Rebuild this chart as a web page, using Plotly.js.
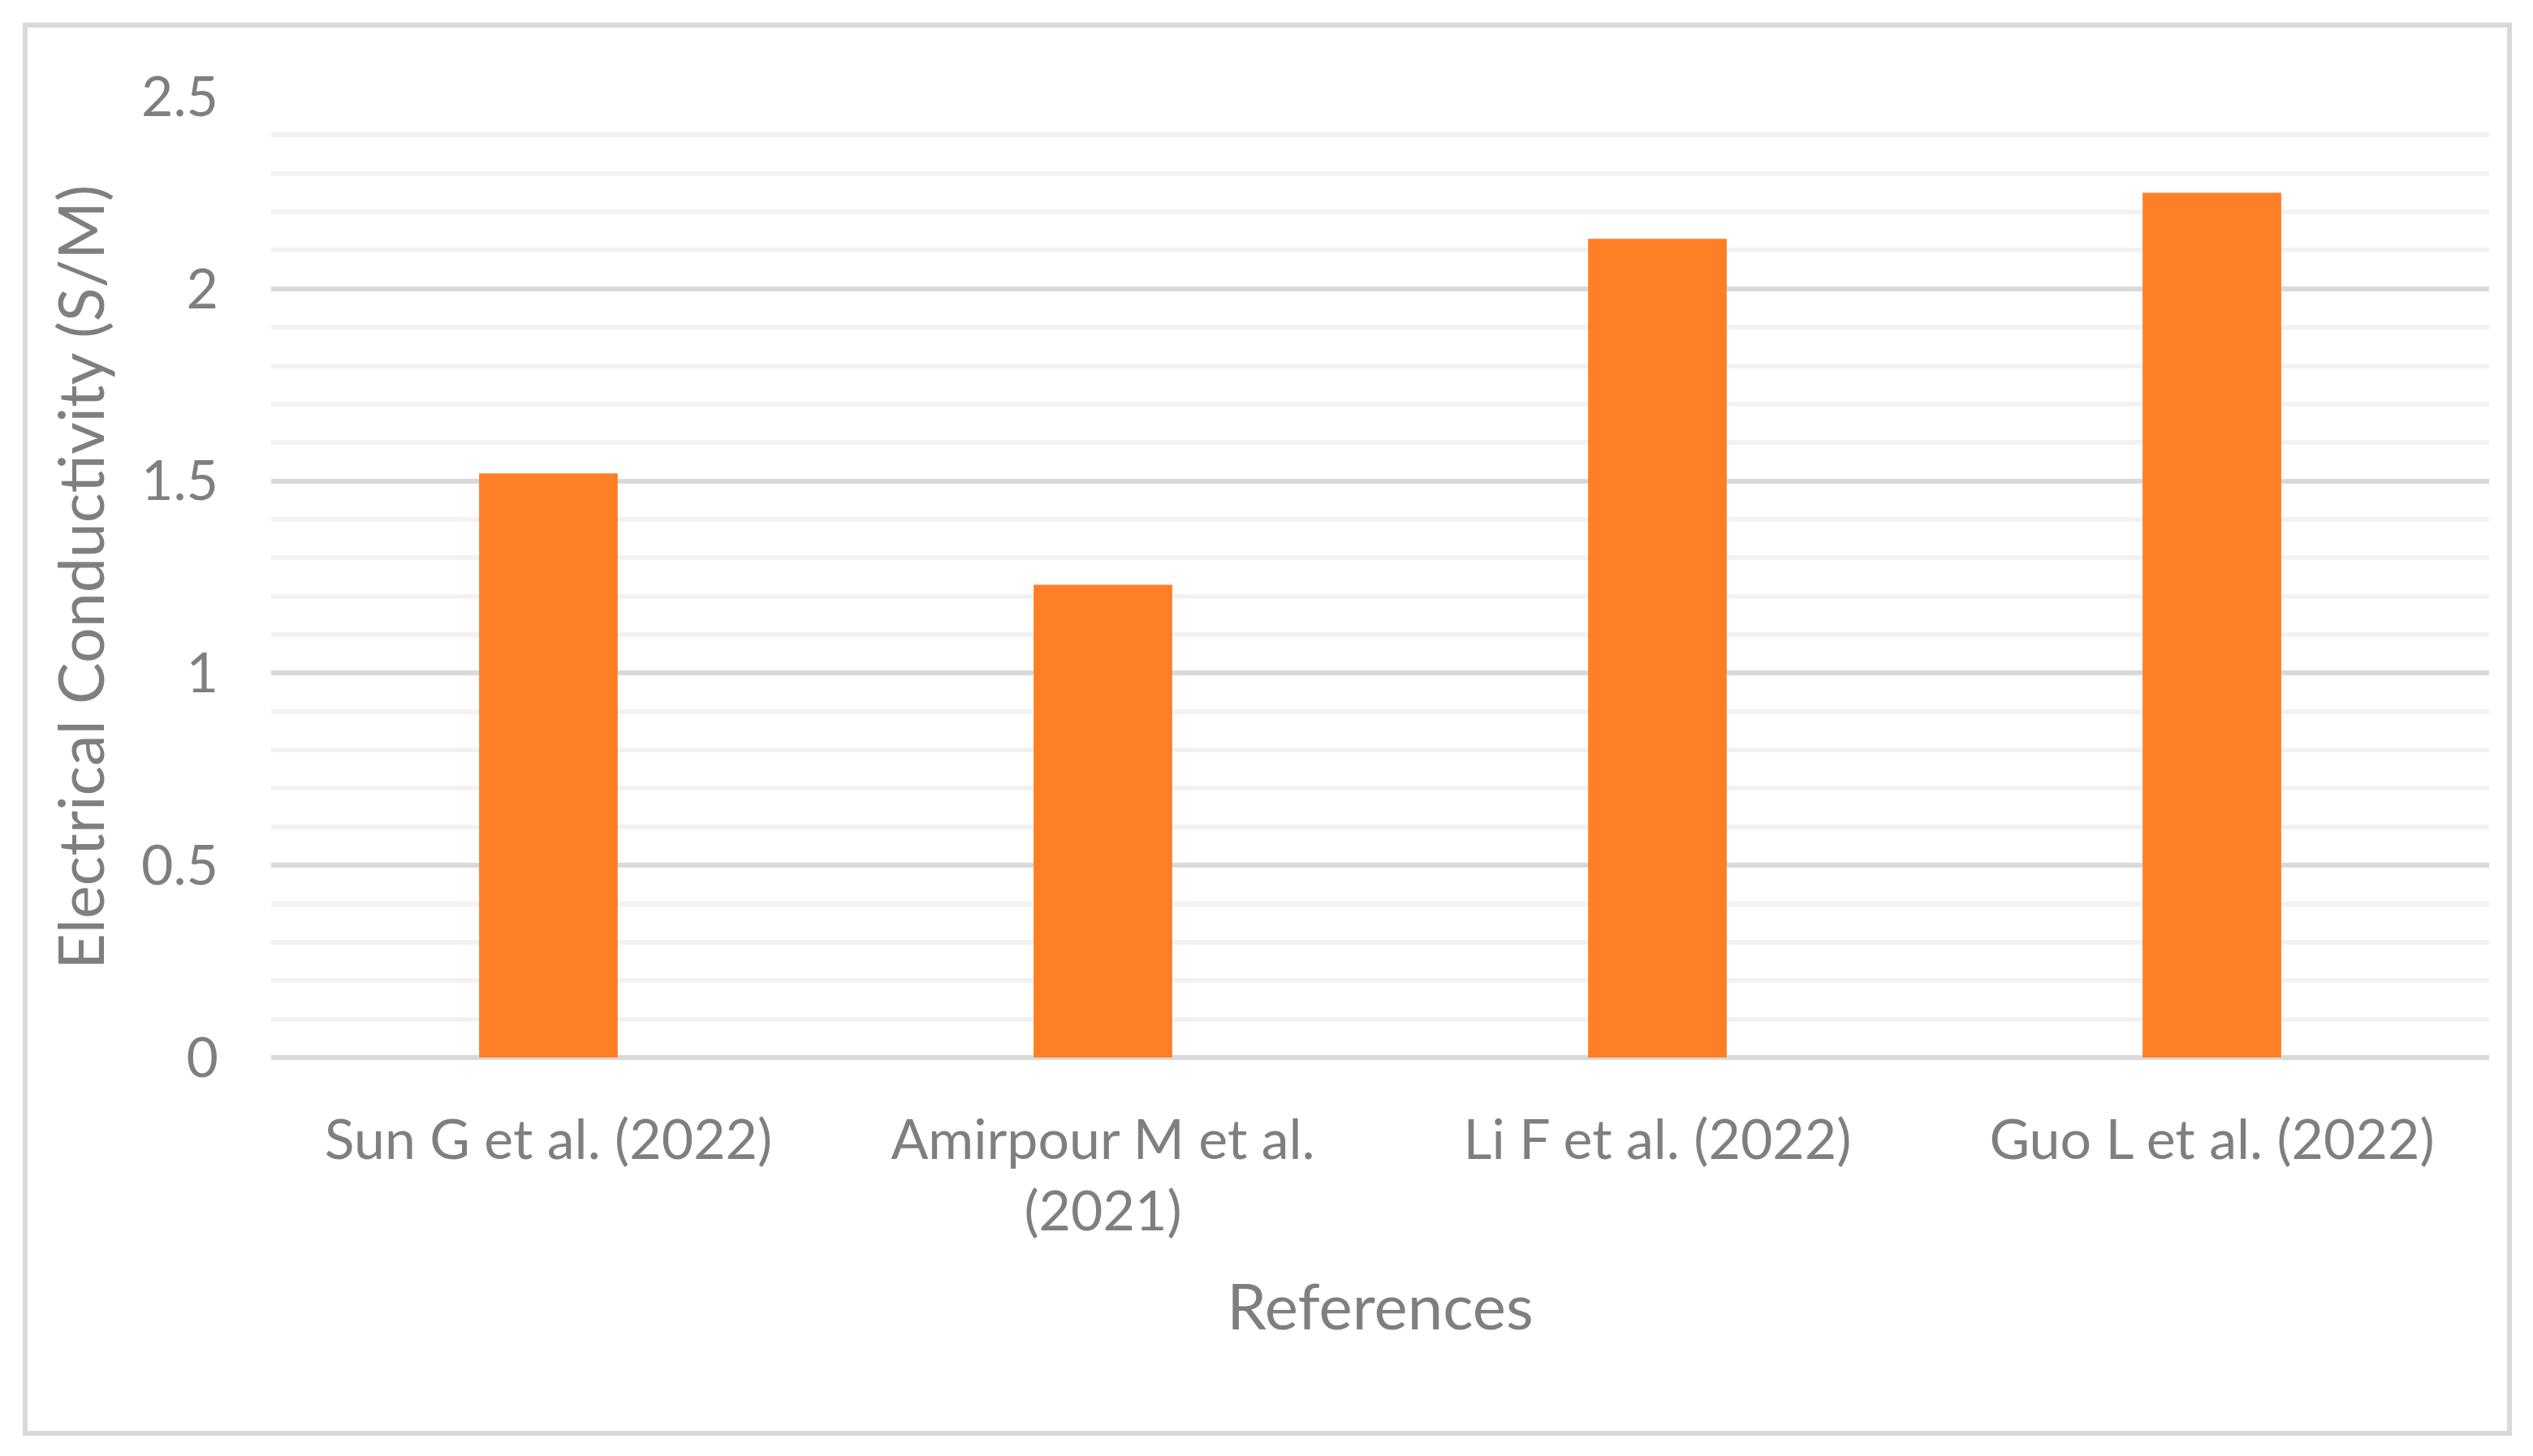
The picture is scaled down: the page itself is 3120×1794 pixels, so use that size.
<!DOCTYPE html>
<html>
<head>
<meta charset="utf-8">
<script src="https://cdn.plot.ly/plotly-3.0.1.min.js"></script>
<style>
html,body{margin:0;padding:0;background:#fff;}
#chart{width:3120px;height:1794px;}
</style>
</head>
<body>
<div id="chart"></div>
<script>
const categories = ["Sun G et al. (2022)", "Amirpour M et al.<br>(2021)", "Li F et al. (2022)", "Guo L et al. (2022)"];
const conductivity = [1.52, 1.23, 2.13, 2.25];
const yTickVals = [0, 0.5, 1, 1.5, 2, 2.5];
const yTickText = ["0", "0.5", "1", "1.5", "2", "2.5"];

const FONT = "Lato, 'Open Sans', sans-serif";
const GRAY = "#7f7f7f";

const L = 334, R = 3066, T = 119, B = 1303, W = 3120, H = 1794;
const pw = R - L, ph = B - T;
function px(x){ return (x - L) / pw; }
function py(y){ return (B - y) / ph; }

const trace = {
  type: "bar",
  x: categories,
  y: conductivity,
  marker: { color: "#fe7f26" },
  width: 0.25,
  hoverinfo: "x+y"
};

const layout = {
  width: W, height: H,
  paper_bgcolor: "#ffffff",
  plot_bgcolor: "#ffffff",
  margin: { l: L, r: W - R, t: T, b: H - B, pad: 0 },
  showlegend: false,
  font: { family: FONT, color: GRAY, size: 68 },
  xaxis: {
    type: "category",
    showgrid: false,
    showline: false,
    zeroline: false,
    ticks: "",
    tickfont: { family: FONT, size: 68, color: GRAY },
    ticklabelstandoff: 56,
    title: { text: "References", font: { family: FONT, size: 78, color: GRAY }, standoff: 53 }
  },
  yaxis: {
    range: [0, 2.5],
    tickvals: yTickVals,
    ticktext: yTickText,
    showgrid: true,
    gridcolor: "#d9d9d9",
    gridwidth: 6,
    zeroline: true,
    zerolinecolor: "#d9d9d9",
    zerolinewidth: 6,
    showline: false,
    ticks: "",
    tickfont: { family: FONT, size: 68, color: GRAY },
    ticklabelstandoff: 64,
    minor: { dtick: 0.1, showgrid: true, gridcolor: "#f2f2f2", gridwidth: 6, ticks: "" },
    title: { text: "Electrical Conductivity (S/M)", font: { family: FONT, size: 77, color: GRAY }, standoff: 20 }
  },
  shapes: [{
    type: "rect", xref: "paper", yref: "paper", layer: "below",
    x0: px(31), x1: px(3091), y0: py(1766), y1: py(31),
    line: { color: "#d9d9d9", width: 6 }, fillcolor: "rgba(0,0,0,0)"
  }]
};

Plotly.newPlot("chart", [trace], layout, { displayModeBar: false, staticPlot: true });
</script>
</body>
</html>
